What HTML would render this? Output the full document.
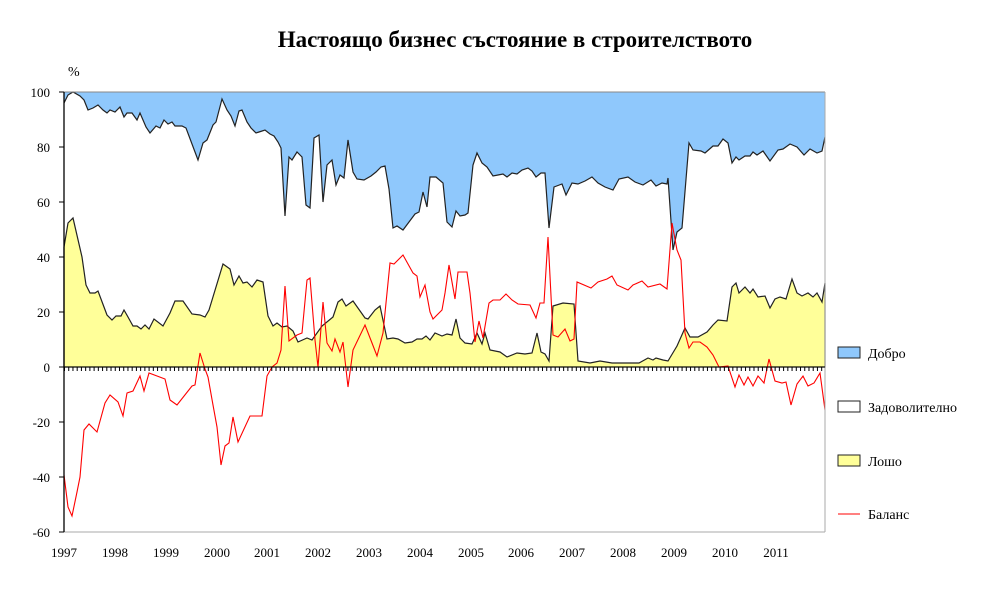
<!DOCTYPE html>
<html><head><meta charset="utf-8"><style>
body{margin:0;background:#fff;}
svg{display:block;font-family:"Liberation Serif",serif;}
</style></head><body>
<svg width="990" height="605" viewBox="0 0 990 605">
<rect width="990" height="605" fill="#fff"/>
<text x="515" y="47" text-anchor="middle" font-size="23" font-weight="bold">Настоящо бизнес състояние в строителството</text>
<text x="68" y="76" font-size="14">%</text>
<polygon fill="#8fc8fc" points="64,92 64,103 68,95 73,92 80,96 84,100 88,110 93,108 98,105 103,110 107,113 110,110 115,112 120,107 124,117 127,113 132,113 137,120 140,113 146,127 150,133 156,126 160,128 164,120 168,124 172,122 175,126 182,126 186,128 198,160 203,143 207,140 213,125 216,122 222,99 227,110 231,116 235,126 239,111 242,110 247,122 251,128 256,133 259,132 265,130 270,134 274,136 278,142 281,148 285,216 289,157 292,160 297,152 302,157 306,205 310,208 314,138 319,135 323,202 327,165 332,160 336,185 340,175 344,178 348,140 353,172 357,179 364,180 371,176 376,172 381,167 385,166 389,189 393,228 397,226 403,230 409,222 415,214 419,212 423,192 427,207 430,177 436,177 443,183 447,222 452,227 456,211 460,216 465,215 468,213 473,165 477,153 482,163 487,167 493,176 498,175 503,174 507,177 512,173 517,174 522,170 528,168 532,171 536,177 541,173 545,173 549,228 554,187 562,184 566,195 572,183 578,184 585,181 592,177 598,183 605,187 613,190 619,179 628,177 635,182 643,185 651,180 656,186 662,183 667,184 668,178 673,250 677,232 682,228 689,143 693,150 701,151 705,153 713,146 718,146 723,139 728,143 732,163 736,157 739,160 745,156 750,156 753,152 757,155 763,151 770,161 778,150 783,149 790,144 797,147 804,155 810,149 817,153 822,151 825,137 825,92"/>
<polyline fill="none" stroke="#222" stroke-width="1.2" points="64,103 68,95 73,92 80,96 84,100 88,110 93,108 98,105 103,110 107,113 110,110 115,112 120,107 124,117 127,113 132,113 137,120 140,113 146,127 150,133 156,126 160,128 164,120 168,124 172,122 175,126 182,126 186,128 198,160 203,143 207,140 213,125 216,122 222,99 227,110 231,116 235,126 239,111 242,110 247,122 251,128 256,133 259,132 265,130 270,134 274,136 278,142 281,148 285,216 289,157 292,160 297,152 302,157 306,205 310,208 314,138 319,135 323,202 327,165 332,160 336,185 340,175 344,178 348,140 353,172 357,179 364,180 371,176 376,172 381,167 385,166 389,189 393,228 397,226 403,230 409,222 415,214 419,212 423,192 427,207 430,177 436,177 443,183 447,222 452,227 456,211 460,216 465,215 468,213 473,165 477,153 482,163 487,167 493,176 498,175 503,174 507,177 512,173 517,174 522,170 528,168 532,171 536,177 541,173 545,173 549,228 554,187 562,184 566,195 572,183 578,184 585,181 592,177 598,183 605,187 613,190 619,179 628,177 635,182 643,185 651,180 656,186 662,183 667,184 668,178 673,250 677,232 682,228 689,143 693,150 701,151 705,153 713,146 718,146 723,139 728,143 732,163 736,157 739,160 745,156 750,156 753,152 757,155 763,151 770,161 778,150 783,149 790,144 797,147 804,155 810,149 817,153 822,151 825,137"/>
<polygon fill="#ffff99" stroke="#222" stroke-width="1.2" points="64,367 64,247 68,223 73,218 82,257 86,285 90,293 95,293 98,291 107,315 112,320 116,316 121,316 124,310 128,317 133,326 137,326 141,329 145,325 149,329 154,319 163,326 170,313 175,301 183,301 192,314 200,315 205,317 209,310 223,264 230,269 234,285 239,276 243,283 247,282 252,287 257,280 263,282 268,316 273,326 277,323 282,327 287,326 293,331 298,342 307,338 312,340 322,326 333,317 338,302 342,299 346,306 353,301 365,318 368,319 375,310 380,306 387,339 393,338 398,339 405,343 412,342 417,339 422,339 426,336 430,340 435,333 442,336 447,334 452,335 456,319 460,338 465,343 472,344 477,333 482,344 485,333 490,350 500,352 507,357 517,353 525,354 532,353 537,333 541,352 545,354 549,361 553,306 563,303 574,304 578,361 590,363 600,361 612,363 623,363 630,363 639,363 648,358 653,360 656,358 663,360 668,361 677,346 685,328 690,337 698,337 707,332 713,325 718,320 727,321 732,287 736,283 739,293 745,287 750,293 753,289 758,297 765,296 770,308 775,299 780,297 786,299 792,279 797,293 802,296 808,293 813,297 817,293 822,302 825,283 825,367"/>
<polyline fill="none" stroke="#ff0000" stroke-width="1.1" points="64,475 68,507 72,516 77,492 80,477 84,430 89,424 97,432 105,403 110,395 118,402 123,416 127,393 133,391 140,376 144,391 149,373 165,379 170,400 177,405 192,386 195,385 200,353 205,369 208,377 213,405 217,427 221,465 225,446 229,443 233,417 238,442 250,416 262,416 267,376 272,367 277,363 281,350 285,286 289,341 297,335 302,333 307,280 310,278 315,340 318,367 323,302 327,343 332,351 335,339 340,352 343,342 348,387 353,350 365,325 372,343 377,356 383,333 390,263 394,264 403,255 413,273 417,276 420,297 425,285 430,312 433,319 442,310 445,293 449,265 455,299 458,272 467,272 470,293 475,342 479,321 483,338 489,303 493,300 500,300 506,294 512,300 518,304 530,305 536,318 540,303 544,303 548,237 553,335 558,337 565,329 570,341 574,339 577,282 591,288 598,282 607,279 612,276 617,285 628,290 633,285 642,281 648,287 660,284 667,289 672,223 677,250 681,260 685,333 689,348 693,342 700,342 707,347 713,355 719,367 728,366 735,387 739,375 744,385 748,377 753,386 758,376 764,383 769,359 775,381 782,383 786,382 791,405 797,384 803,376 808,386 814,383 820,373 825,410"/>
<line x1="64" y1="92" x2="825" y2="92" stroke="#888"/>
<line x1="825" y1="92" x2="825" y2="532" stroke="#aaa"/>
<line x1="64" y1="532" x2="825" y2="532" stroke="#aaa"/>
<line x1="64" y1="367" x2="825" y2="367" stroke="#000"/>
<line x1="64" y1="367" x2="825" y2="367" stroke="#000" stroke-width="4" stroke-dasharray="1 3.23" transform="translate(0,2)"/>
<line x1="64" y1="92" x2="64" y2="532" stroke="#000" stroke-width="1.3"/>
<g stroke="#000"><line x1="59" y1="92" x2="64" y2="92"/><line x1="59" y1="147" x2="64" y2="147"/><line x1="59" y1="202" x2="64" y2="202"/><line x1="59" y1="257" x2="64" y2="257"/><line x1="59" y1="312" x2="64" y2="312"/><line x1="59" y1="367" x2="64" y2="367"/><line x1="59" y1="422" x2="64" y2="422"/><line x1="59" y1="477" x2="64" y2="477"/><line x1="59" y1="532" x2="64" y2="532"/></g>
<g font-size="13" text-anchor="end"><text x="50" y="97">100</text><text x="50" y="152">80</text><text x="50" y="207">60</text><text x="50" y="262">40</text><text x="50" y="317">20</text><text x="50" y="372">0</text><text x="50" y="427">-20</text><text x="50" y="482">-40</text><text x="50" y="537">-60</text></g>
<g font-size="13" text-anchor="middle"><text x="64" y="557">1997</text><text x="115" y="557">1998</text><text x="166" y="557">1999</text><text x="217" y="557">2000</text><text x="267" y="557">2001</text><text x="318" y="557">2002</text><text x="369" y="557">2003</text><text x="420" y="557">2004</text><text x="471" y="557">2005</text><text x="521" y="557">2006</text><text x="572" y="557">2007</text><text x="623" y="557">2008</text><text x="674" y="557">2009</text><text x="725" y="557">2010</text><text x="776" y="557">2011</text></g>
<rect x="838" y="347" width="22" height="11" fill="#8fc8fc" stroke="#222"/>
<rect x="838" y="401" width="22" height="11" fill="#fff" stroke="#222"/>
<rect x="838" y="455" width="22" height="11" fill="#ffff99" stroke="#222"/>
<line x1="838" y1="514" x2="860" y2="514" stroke="#f00"/>
<g font-size="14"><text x="868" y="358">Добро</text><text x="868" y="412">Задоволително</text><text x="868" y="466">Лошо</text><text x="868" y="519">Баланс</text></g>
</svg>
</body></html>
